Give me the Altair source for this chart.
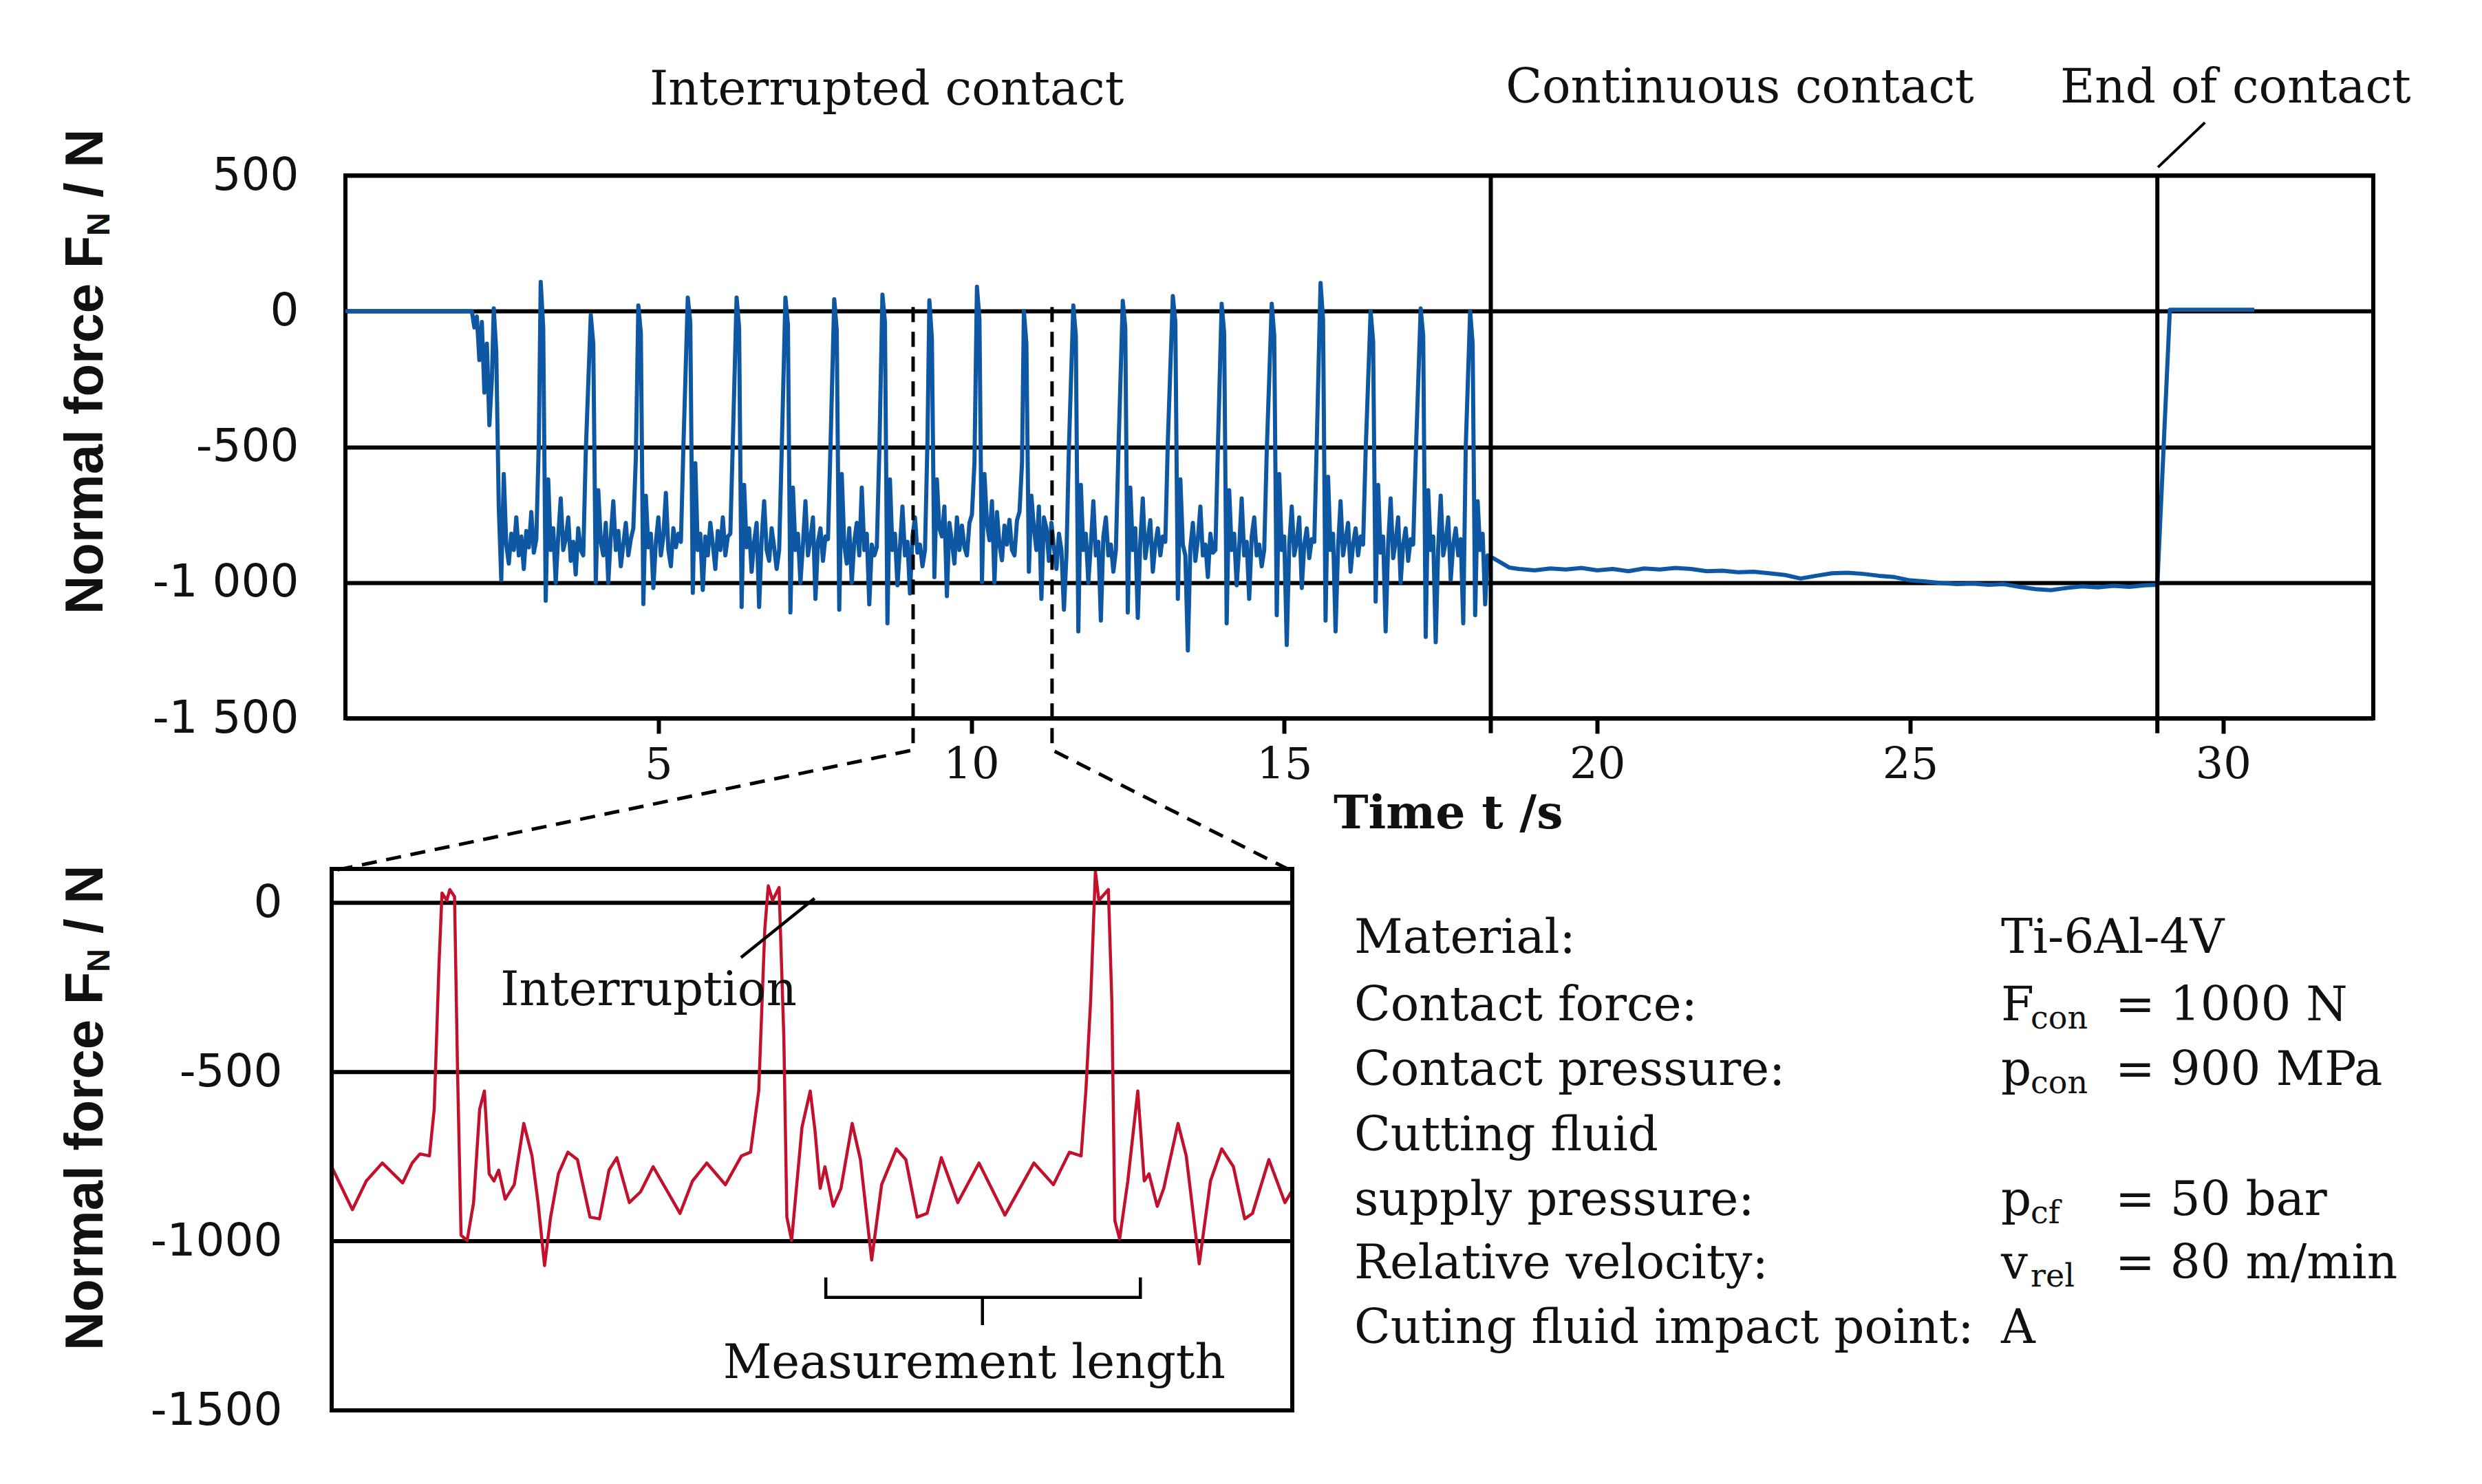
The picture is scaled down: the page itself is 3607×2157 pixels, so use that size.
import altair as alt
import pandas as pd

# ---------------- top chart: full record ----------------
START_T = [0.0, 2.02, 2.06, 2.10, 2.14, 2.18, 2.22, 2.26, 2.30, 2.34]
START_F = [0, 0, -60, -20, -180, -40, -300, -120, -420, -250]

SAMPLE_DT = 0.04  # sample interval of the interrupted-contact record
SPIKE_T = [2.37, 3.12, 3.92, 4.68, 5.47, 6.25, 7.03, 7.81, 8.58, 9.33, 10.09,
           10.84, 11.63, 12.42, 13.22, 14.00, 14.80, 15.58, 16.38, 17.18, 17.97]
CYCLES = [
    [10, -150, -720, -990, -600, -860, -930, -820, -880, -760, -900, -830, -950, -810, -870, -740, -890, -840, -480],
    [108, -60, -1067, -620, -880, -800, -1000, -830, -690, -880, -840, -760, -920, -850, -970, -800, -880, -900, -520],
    [-14, -120, -1000, -660, -850, -900, -780, -1000, -830, -700, -880, -810, -940, -860, -780, -900, -840, -800, -540],
    [21, -80, -1079, -680, -870, -820, -1020, -850, -760, -900, -830, -670, -880, -940, -800, -870, -820, -850, -500],
    [50, -40, -1038, -560, -880, -820, -1027, -830, -900, -780, -860, -950, -810, -880, -760, -900, -830, -820, -480],
    [50, -60, -1090, -640, -870, -800, -960, -850, -780, -1090, -840, -700, -880, -920, -800, -870, -950, -880, -520],
    [50, -50, -1110, -650, -880, -820, -1000, -860, -700, -900, -840, -760, -1060, -850, -800, -920, -830, -840, -500],
    [44, -70, -1100, -600, -860, -930, -800, -1000, -850, -780, -900, -650, -880, -820, -1080, -860, -900, -870, -520],
    [61, -40, -1150, -620, -880, -820, -1010, -870, -720, -900, -850, -1040, -830, -760, -890, -860, -940, -880, -470],
    [40, -100, -980, -620, -800, -830, -720, -1050, -780, -850, -930, -760, -880, -790, -870, -900, -780, -750, -560],
    [90, -30, -998, -600, -780, -844, -700, -1000, -740, -860, -918, -790, -860, -769, -880, -900, -770, -740, -560],
    [0, -120, -960, -680, -800, -880, -720, -1060, -760, -800, -920, -780, -870, -950, -820, -880, -1100, -900, -500],
    [21, -90, -1180, -640, -880, -820, -1000, -860, -700, -900, -850, -1140, -830, -760, -900, -860, -960, -880, -520],
    [38, -60, -1110, -650, -880, -800, -1130, -850, -690, -910, -840, -770, -960, -860, -800, -900, -830, -850, -480],
    [56, -40, -1060, -620, -860, -900, -1250, -870, -780, -920, -840, -720, -900, -860, -980, -820, -890, -880, -500],
    [27, -80, -1150, -660, -880, -820, -1010, -870, -690, -900, -850, -1060, -830, -760, -900, -860, -940, -880, -520],
    [27, -90, -1120, -600, -880, -830, -1230, -860, -720, -900, -850, -760, -1020, -860, -800, -910, -840, -850, -480],
    [104, -30, -1140, -610, -880, -820, -1180, -870, -700, -900, -840, -780, -960, -860, -800, -900, -830, -860, -520],
    [0, -110, -1070, -640, -890, -830, -1180, -860, -690, -910, -850, -760, -1000, -860, -800, -920, -840, -860, -540],
    [10, -90, -1200, -660, -880, -830, -1220, -870, -680, -900, -850, -760, -990, -860, -800, -900, -840, -1150, -500],
    [0, -120, -1120, -700, -880, -820, -1080, -900],
]

CONT_T = [18.30, 18.45, 18.60, 18.75, 19.0, 19.25, 19.5, 19.75, 20.0, 20.25, 20.5, 20.75,
          21.0, 21.25, 21.5, 21.75, 22.0, 22.25, 22.5, 22.75, 23.0, 23.25, 23.5, 23.75,
          24.0, 24.25, 24.5, 24.75, 25.0, 25.25, 25.5, 25.75, 26.0, 26.25, 26.5, 26.75,
          27.0, 27.25, 27.5, 27.75, 28.0, 28.25, 28.5, 28.75, 28.95]
CONT_F = [-905, -925, -945, -950, -955, -948, -952, -946, -955, -950, -958, -948,
          -952, -946, -950, -958, -956, -962, -960, -966, -972, -985, -975, -966,
          -964, -968, -975, -980, -992, -996, -1002, -1006, -1004, -1008, -1006, -1016,
          -1024, -1028, -1020, -1014, -1018, -1012, -1016, -1010, -1008]
END_T = [29.15, 30.5]
END_F = [5, 5]

PHASE_T = [18.3, 28.95]          # end of interrupted contact / end of contact
ZOOM_T = [9.07, 11.29]           # window shown in the inset
X_TICKS = [5, 10, 15, 20, 25, 30]
Y_TICKS = [-1500, -1000, -500, 0, 500]

TOP_NOTES = ["Interrupted contact", "Continuous contact", "End of contact"]
TOP_NOTES_T = [8.65, 22.28, 30.20]
TOP_NOTES_F = [761, 769, 769]

# ---------------- inset: zoom of the interrupted contact ----------------
INSET_T = [9.070, 9.078, 9.118, 9.150, 9.187, 9.234, 9.256, 9.274, 9.296, 9.307, 9.318, 9.325,
           9.336, 9.343, 9.354, 9.361, 9.369, 9.383, 9.398, 9.412, 9.423, 9.434, 9.445, 9.456,
           9.471, 9.492, 9.514, 9.533, 9.547, 9.562, 9.576, 9.594, 9.616, 9.638, 9.667, 9.689,
           9.711, 9.729, 9.758, 9.784, 9.813, 9.842, 9.875, 9.904, 9.937, 9.980, 10.017, 10.038,
           10.057, 10.071, 10.079, 10.089, 10.104, 10.115, 10.122, 10.133, 10.157, 10.176, 10.187,
           10.199, 10.210, 10.229, 10.247, 10.273, 10.292, 10.318, 10.341, 10.375, 10.397, 10.423,
           10.446, 10.479, 10.517, 10.566, 10.626, 10.693, 10.738, 10.775, 10.802, 10.813, 10.824,
           10.835, 10.843, 10.865, 10.873, 10.880, 10.891, 10.910, 10.933, 10.948, 10.959, 10.978,
           10.993, 11.026, 11.045, 11.075, 11.101, 11.127, 11.154, 11.180, 11.198, 11.236, 11.273, 11.288]
INSET_F = [-780, -801, -907, -822, -769, -828, -769, -742, -748, -610, -184, 29,
           7, 39, 18, -503, -982, -998, -886, -610, -556, -801, -822, -790,
           -876, -833, -652, -748, -886, -1072, -929, -801, -737, -759, -929, -934,
           -790, -753, -886, -854, -780, -844, -918, -822, -769, -833, -748, -737,
           -556, -78, 50, 7, 45, -397, -929, -998, -663, -556, -673,
           -844, -780, -897, -844, -652, -759, -1056, -833, -727, -759, -929,
           -918, -753, -886, -769, -923, -769, -833, -737, -748, -556, -290,
           93, 7, 39, -290, -939, -993, -822, -556, -822, -801, -897,
           -844, -652, -748, -1067, -822, -727, -780, -934, -918, -759, -886, -854]
INSET_Y_DOMAIN = [-1500, 100]
INSET_Y_TICKS = [-1500, -1000, -500, 0]
INSET_GRID = [0, -500, -1000]

PARAM_LABELS = ["Material:", "Contact force:", "Contact pressure:", "Cutting fluid",
                "supply pressure:", "Relative velocity:", "Cuting fluid impact point:"]
PARAM_SYMBOLS = ["Ti-6Al-4V", "F", "p", "", "p", "v", "A"]
PARAM_SUBS = ["", "con", "con", "", "cf", "rel", ""]
PARAM_VALUES = ["", "= 1000 N", "= 900 MPa", "", "= 50 bar", "= 80 m/min", ""]

# ---------------- styling ----------------
BLUE = "#0E57A2"
RED = "#C3112D"
SERIF = "DejaVu Serif"
SANS = "DejaVu Sans"
TFONT = "Liberation Sans, Arial, sans-serif"
X_MAX = 32.4
TOP_W, TOP_H = 2947, 789
IN_SHIFT = 20                    # inset frame starts 20 px left of the top frame
IN_W, IN_H = 1396, 787
GRID_W = 6

rows = list(zip(START_T, START_F))
for t0, cyc in zip(SPIKE_T, CYCLES):
    for j, f in enumerate(cyc):
        rows.append((round(t0 + j * SAMPLE_DT, 3), f))
rows += list(zip(CONT_T, CONT_F)) + list(zip(END_T, END_F))
main_df = pd.DataFrame(rows, columns=["t", "F"])

xs = alt.Scale(domain=[0, X_MAX], nice=False, zero=False)
ys = alt.Scale(domain=[-1500, 500], nice=False, zero=False)
x_axis = alt.Axis(values=X_TICKS, title=None, grid=False, domain=False, ticks=True,
                  tickSize=22, tickWidth=GRID_W, tickColor="black", labelFont=SERIF,
                  labelFontSize=64, labelColor="#111", labelPadding=14, labelFlush=False)
y_axis = alt.Axis(values=Y_TICKS, title=None, grid=True, gridColor="black", gridWidth=GRID_W,
                  gridOpacity=1, domain=False, ticks=False, tickSize=0, labelFont=SANS,
                  labelFontSize=66, labelColor="#111", labelPadding=68, labelFlush=False,
                  labelLimit=500,
                  labelExpr="datum.value < 0 ? '-' + replace(format(-datum.value, ','), ',', ' ') : format(datum.value, 'd')")
X = alt.X("t:Q", scale=xs, axis=x_axis)
Y = alt.Y("F:Q", scale=ys, axis=y_axis)

main_line = alt.Chart(main_df).mark_line(color=BLUE, strokeWidth=6, strokeJoin="round", clip=True).encode(x=X, y=Y)

phase_df = pd.DataFrame({"t": PHASE_T, "F": [500] * 2, "F2": [-1555] * 2})
phase = alt.Chart(phase_df).mark_rule(color="black", strokeWidth=GRID_W, clip=False).encode(
    x=X, y=Y, y2="F2:Q")

conn_df = pd.DataFrame({
    "t": [ZOOM_T[0], ZOOM_T[0], -0.22, ZOOM_T[1], ZOOM_T[1], 15.12],
    "F": [15, -1617, -2063, 15, -1617, -2063],
    "k": [0, 1, 2, 0, 1, 2],
    "g": ["L", "L", "L", "R", "R", "R"],
})
conn = alt.Chart(conn_df).mark_line(color="black", strokeWidth=5, strokeDash=[22, 14], clip=False).encode(
    x=X, y=Y, order="k:Q", detail="g:N")

leader_df = pd.DataFrame({"t": [29.71, 28.96], "F": [695, 530], "k": [0, 1]})
leader = alt.Chart(leader_df).mark_line(color="black", strokeWidth=4, clip=False).encode(x=X, y=Y, order="k:Q")

notes_df = pd.DataFrame({"t": TOP_NOTES_T, "F": TOP_NOTES_F, "label": TOP_NOTES})
notes = alt.Chart(notes_df).mark_text(font=SERIF, fontSize=69, align="center", baseline="alphabetic",
                                      color="#111", clip=False).encode(x=X, y=Y, text="label:N")

xtitle_df = pd.DataFrame({"t": [17.62], "F": [-1906], "label": ["Time t /s"]})
xtitle = alt.Chart(xtitle_df).mark_text(font=SERIF, fontSize=68, fontWeight="bold", align="center",
                                        baseline="alphabetic", color="#111", clip=False).encode(x=X, y=Y, text="label:N")


def ytitle(px, py):
    """Rotated 'Normal force F_N / N' built from three text pieces (pixel offsets)."""
    parts = []
    for txt, size, dx, dy in [("Normal force F", 78, 0, 0), ("N", 47, 10, -550), ("/ N", 78, 0, -606)]:
        d = pd.DataFrame({"label": [txt]})
        parts.append(alt.Chart(d).mark_text(font=TFONT, fontSize=size, fontWeight="bold", angle=270,
                                            align="left", baseline="alphabetic", color="#111").encode(
            text="label:N", x=alt.value(px + dx), y=alt.value(py + dy)))
    return parts


top = alt.layer(main_line, phase, conn, leader, notes, xtitle, *ytitle(-353, 638)).properties(
    width=TOP_W, height=TOP_H)

# ---------------- inset ----------------
inset_df = pd.DataFrame({"t": INSET_T, "F": INSET_F})
ixs = alt.Scale(domain=ZOOM_T, range=[-IN_SHIFT, IN_W - IN_SHIFT], nice=False, zero=False)
iys = alt.Scale(domain=INSET_Y_DOMAIN, nice=False, zero=False)
iy_axis = alt.Axis(values=INSET_Y_TICKS, title=None, grid=False, domain=False, ticks=False,
                   tickSize=0, labelFont=SANS, labelFontSize=66, labelColor="#111",
                   labelPadding=72 + IN_SHIFT, labelFlush=False, labelLimit=500,
                   labelExpr="datum.value < 0 ? '-' + format(-datum.value, 'd') : format(datum.value, 'd')")
IX = alt.X("t:Q", scale=ixs, axis=None)
IY = alt.Y("F:Q", scale=iys, axis=iy_axis)

frame_df = pd.DataFrame({"t": [ZOOM_T[0]], "t2": [ZOOM_T[1]], "F": [INSET_Y_DOMAIN[0]], "F2": [INSET_Y_DOMAIN[1]]})
frame = alt.Chart(frame_df).mark_rect(fillOpacity=0, stroke="black", strokeWidth=GRID_W).encode(
    x=IX, x2="t2:Q", y=IY, y2="F2:Q")
igrid_df = pd.DataFrame({"F": INSET_GRID, "t": [ZOOM_T[0]] * 3, "t2": [ZOOM_T[1]] * 3})
igrid = alt.Chart(igrid_df).mark_rule(color="black", strokeWidth=GRID_W).encode(x=IX, x2="t2:Q", y=IY)

inset_line = alt.Chart(inset_df).mark_line(color=RED, strokeWidth=4.5, strokeJoin="round").encode(x=IX, y=IY)

br_df = pd.DataFrame({
    "t": [10.212, 10.212, 10.939, 10.939, 10.574, 10.574],
    "F": [-1107, -1166, -1166, -1107, -1166, -1248],
    "k": [0, 1, 2, 3, 0, 1],
    "g": ["a", "a", "a", "a", "b", "b"],
})
bracket = alt.Chart(br_df).mark_line(color="black", strokeWidth=4.5).encode(x=IX, y=IY, order="k:Q", detail="g:N")

il_df = pd.DataFrame({"t": [10.016, 10.186], "F": [-162, 13], "k": [0, 1]})
ileader = alt.Chart(il_df).mark_line(color="black", strokeWidth=4.5).encode(x=IX, y=IY, order="k:Q")

inotes_df = pd.DataFrame({"t": [9.460], "F": [-302], "label": ["Interruption"]})
inotes = alt.Chart(inotes_df).mark_text(font=SERIF, fontSize=69, align="left", baseline="alphabetic",
                                        color="#111").encode(x=IX, y=IY, text="label:N")
mnotes_df = pd.DataFrame({"t": [10.555], "F": [-1405], "label": ["Measurement length"]})
mnotes = alt.Chart(mnotes_df).mark_text(font=SERIF, fontSize=69, align="center", baseline="alphabetic",
                                        color="#111").encode(x=IX, y=IY, text="label:N")

# parameter block (pixel offsets from the inset's origin)
LINE_Y = [122, 220, 314, 409, 503, 595, 689]
param_layers = []


def ptext(txt, px, py, size=69):
    d = pd.DataFrame({"label": [txt]})
    return alt.Chart(d).mark_text(font=SERIF, fontSize=size, align="left", baseline="alphabetic",
                                  color="#111").encode(text="label:N", x=alt.value(px - IN_SHIFT), y=alt.value(py))


for i, yy in enumerate(LINE_Y):
    param_layers.append(ptext(PARAM_LABELS[i], 1486, yy))
    if PARAM_SYMBOLS[i]:
        param_layers.append(ptext(PARAM_SYMBOLS[i], 2426, yy))
    if PARAM_SUBS[i]:
        param_layers.append(ptext(PARAM_SUBS[i], 2469, yy + 12, 46))
    if PARAM_VALUES[i]:
        param_layers.append(ptext(PARAM_VALUES[i], 2592, yy))

inset = alt.layer(igrid, inset_line, frame, bracket, ileader, inotes, mnotes,
                  *ytitle(-333 - IN_SHIFT, 700), *param_layers).properties(
    width=IN_W - IN_SHIFT, height=IN_H, view=alt.ViewBackground(strokeOpacity=0))

chart = alt.concat(top, inset, columns=1, align="none", spacing=-23).properties(
    padding={"left": 76, "top": 82, "right": 20, "bottom": 20},
    background="white",
).configure_view(stroke="black", strokeWidth=GRID_W)

chart.save("out.html", embed_options={"renderer": "svg", "actions": False})
